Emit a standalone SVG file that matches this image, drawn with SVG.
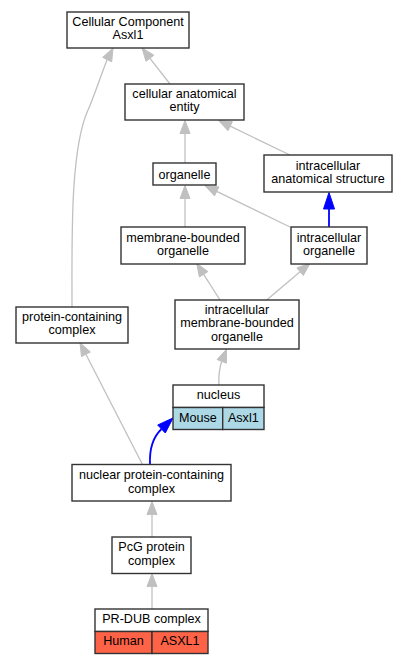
<svg xmlns="http://www.w3.org/2000/svg" width="408" height="664" viewBox="0 0 408 664">
<style>
.box{fill:#ffffff;stroke:#333333;stroke-width:1.4}
.mouse{fill:#add8e6;stroke:#333333;stroke-width:1.4}
.human{fill:#ff6347;stroke:#333333;stroke-width:1.4}
text{font-family:"Liberation Sans",Arial,sans-serif;font-size:12.6px;fill:#000000;text-anchor:middle}
.e{fill:none;stroke:#c0c0c0;stroke-width:1.3}
.ah{fill:#c0c0c0;stroke:#c0c0c0;stroke-width:1}
.eb{fill:none;stroke:#0000ff;stroke-width:1.8}
.ahb{fill:#0000ff;stroke:#0000ff;stroke-width:1}
</style>
<rect width="408" height="664" fill="#ffffff"/>
<g id="connectors">
<path class="e" d="M170,84 L150,58.3"/>
<polygon class="ah" points="142,48 153.9,55.2 146,61.3"/>
<path class="e" d="M72,307 C72,240 70,150 88,110 C93,99 100,78 107.2,59.6"/>
<polygon class="ah" points="113,48 111.7,61.8 102.7,57.4"/>
<path class="e" d="M185,163 L185,133"/>
<polygon class="ah" points="185,120.5 190,133.5 180,133.5"/>
<path class="e" d="M290,155 L230.2,126.2"/>
<polygon class="ah" points="218.5,120.5 232.4,121.7 228,130.7"/>
<path class="e" d="M185,227 L185,198"/>
<polygon class="ah" points="185,185.5 190,198.5 180,198.5"/>
<path class="e" d="M290,227 L216.7,191.4"/>
<polygon class="ah" points="205,185.7 218.9,186.9 214.5,195.9"/>
<path class="eb" d="M329,227 L329,208"/>
<polygon class="ahb" points="329,192.5 334.5,209 323.5,209"/>
<path class="e" d="M220,300 L203.7,274.3"/>
<polygon class="ah" points="196.7,263.3 207.9,271.6 199.4,277"/>
<path class="e" d="M266.7,300 L300.1,271.7"/>
<polygon class="ah" points="310,263.3 303.3,275.5 296.9,267.9"/>
<path class="e" d="M219,385 C218.5,378 219,370 221.7,361.3"/>
<polygon class="ah" points="226.5,349.2 226.4,363.2 217.1,359.5"/>
<path class="e" d="M142.7,465 L85.9,354.3"/>
<polygon class="ah" points="80,342.7 90.4,352 81.5,356.6"/>
<path class="eb" d="M150,464 C149.5,452 152,438 161.5,429"/>
<polygon class="ahb" points="173,418 165.3,433 157.7,425"/>
<path class="e" d="M152,537 L152,514"/>
<polygon class="ah" points="152,501.5 157,514.5 147,514.5"/>
<path class="e" d="M152,609 L152,586"/>
<polygon class="ah" points="152,573.5 157,586.5 147,586.5"/>
</g>
<g id="n_cc">
<rect class="box" x="67" y="12" width="122" height="36"/>
<text x="128" y="26">Cellular Component</text>
<text x="128" y="39">Asxl1</text>
</g>
<g id="n_cae">
<rect class="box" x="125" y="84" width="119" height="36"/>
<text x="184.5" y="98">cellular anatomical</text>
<text x="184.5" y="111">entity</text>
</g>
<g id="n_organelle">
<rect class="box" x="153" y="163" width="63" height="22"/>
<text x="184.5" y="178.5">organelle</text>
</g>
<g id="n_ias">
<rect class="box" x="264" y="155" width="128" height="37"/>
<text x="328" y="169.5">intracellular</text>
<text x="328" y="183">anatomical structure</text>
</g>
<g id="n_mbo">
<rect class="box" x="121" y="227" width="124" height="37"/>
<text x="183" y="241.5">membrane-bounded</text>
<text x="183" y="254.5">organelle</text>
</g>
<g id="n_io">
<rect class="box" x="291" y="227" width="76" height="37"/>
<text x="329" y="241.5">intracellular</text>
<text x="329" y="254.5">organelle</text>
</g>
<g id="n_pcc">
<rect class="box" x="16" y="307" width="112" height="36"/>
<text x="72" y="321">protein-containing</text>
<text x="72" y="334">complex</text>
</g>
<g id="n_imbo">
<rect class="box" x="175" y="300" width="124" height="49"/>
<text x="237" y="313.5">intracellular</text>
<text x="237" y="327">membrane-bounded</text>
<text x="237" y="340.5">organelle</text>
</g>
<g id="n_nucleus">
<rect class="box" x="173" y="385" width="91" height="22.5"/>
<rect class="mouse" x="173" y="407.5" width="49.7" height="22"/>
<rect class="mouse" x="222.7" y="407.5" width="41.3" height="22"/>
<text x="218.5" y="399">nucleus</text>
<text x="197.8" y="421.5">Mouse</text>
<text x="243.3" y="421.5">Asxl1</text>
</g>
<g id="n_npcc">
<rect class="box" x="72" y="464.5" width="159" height="36.5"/>
<text x="151.5" y="478.5">nuclear protein-containing</text>
<text x="151.5" y="492.5">complex</text>
</g>
<g id="n_pcg">
<rect class="box" x="112" y="537" width="79" height="36.5"/>
<text x="151.5" y="551">PcG protein</text>
<text x="151.5" y="564.5">complex</text>
</g>
<g id="n_prdub">
<rect class="box" x="95" y="609" width="113" height="22.5"/>
<rect class="human" x="95" y="631.5" width="57" height="22"/>
<rect class="human" x="152" y="631.5" width="56" height="22"/>
<text x="151.5" y="623">PR-DUB complex</text>
<text x="123.5" y="645">Human</text>
<text x="180" y="645">ASXL1</text>
</g>
</svg>
